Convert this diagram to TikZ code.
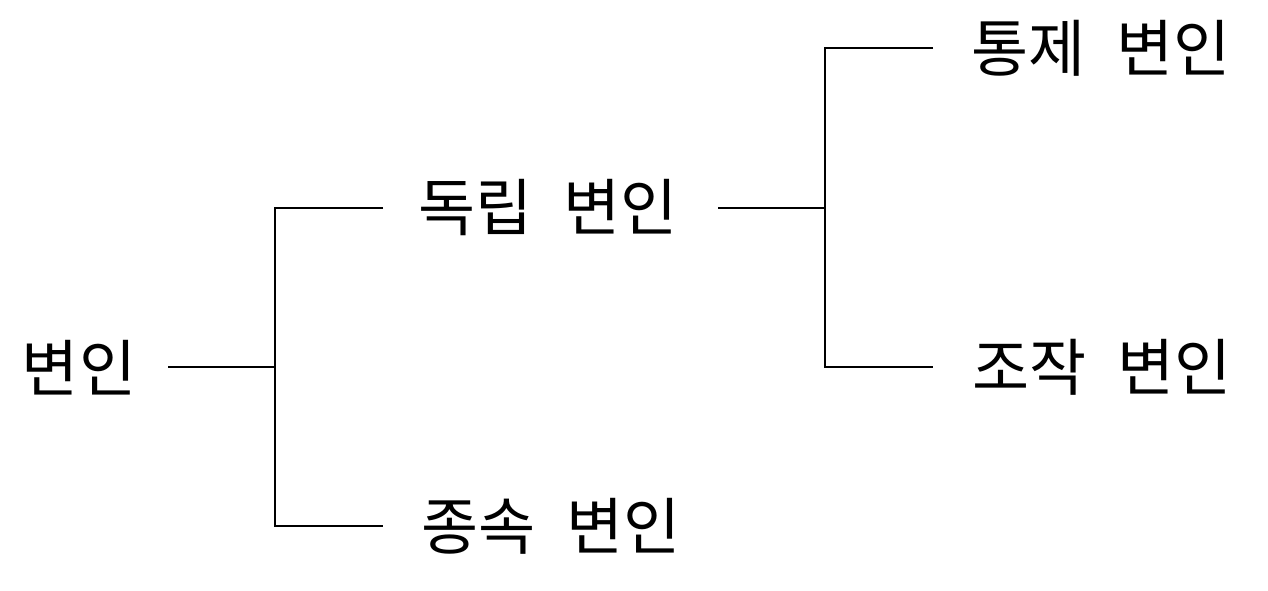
\documentclass[tikz,border=0pt]{standalone}
\usepackage{fontspec}
\setmainfont{Noto Sans CJK KR}
\begin{document}
\begin{tikzpicture}[x=1pt,y=-1pt,
  lbl/.style={inner sep=0pt,font=\fontsize{62}{62}\selectfont},
  conn/.style={line width=2pt}]
\useasboundingbox (0,0) rectangle (1268,590);
\newcommand{\gap}{\hspace{31pt}}
\node[lbl] (root) at (79,368) {변인};
\node[lbl] (ind) at (548,208) {독립\gap 변인};
\node[lbl] (dep) at (551,526) {종속\gap 변인};
\node[lbl] (ctl) at (1101,48) {통제\gap 변인};
\node[lbl] (man) at (1102,367) {조작\gap 변인};
\coordinate (r0) at (168,367);
\coordinate (r1) at (275,367);
\coordinate (r2) at (275,208);
\coordinate (r3) at (383,208);
\coordinate (r4) at (275,526);
\coordinate (r5) at (383,526);
\coordinate (i0) at (718,208);
\coordinate (i1) at (825,208);
\coordinate (i2) at (825,48);
\coordinate (i3) at (933,48);
\coordinate (i4) at (825,367);
\coordinate (i5) at (933,367);
\draw[conn] (r0) -- (r1);
\draw[conn] (r3) -- (r2) -- (r4) -- (r5);
\draw[conn] (i0) -- (i1);
\draw[conn] (i3) -- (i2) -- (i4) -- (i5);
\end{tikzpicture}
\end{document}
